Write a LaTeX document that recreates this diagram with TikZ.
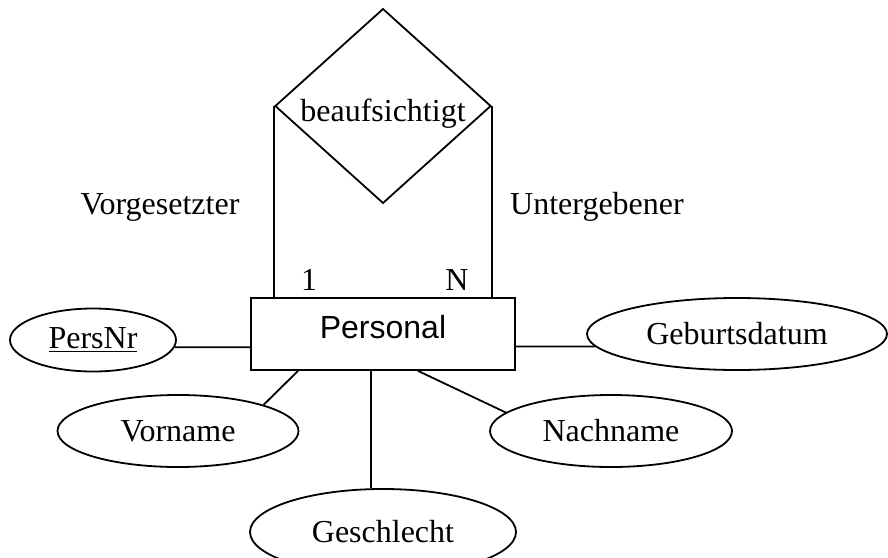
\documentclass[tikz,border=0pt]{standalone}
\usepackage{fontspec}
\setmainfont{Liberation Serif}
\setsansfont{Liberation Sans}
\usetikzlibrary{shapes.geometric}

\begin{document}
\begin{tikzpicture}
	[x=0.5pt,y=-0.5pt,line width=0.9pt,
	 font=\fontsize{16}{19}\selectfont,
	 entity/.style={draw,rectangle,inner sep=0pt,minimum width=132pt,minimum height=36pt,text depth=7pt,font=\fontsize{16}{19}\selectfont\sffamily},
	 relation/.style={draw,diamond,inner sep=0pt,minimum width=108pt,minimum height=96pt},
	 attr/.style={draw,ellipse,inner sep=0pt,minimum height=36pt}]
\useasboundingbox (0,0) rectangle (888,557);
% entity and relationship
\node[entity] (pers) at (383,334) {Personal};
\node[relation] (aufs) at (383,106) {\raisebox{-4pt}[\height][\depth]{beaufsichtigt}};
\draw (aufs.west) -- (aufs.west |- pers.north)
(aufs.east) -- (aufs.east |- pers.north);
% roles and cardinalities
\node (vorg) at (160,207) {Vorgesetzter};
\node (unterg) at (597,207) {Untergebener};
\node (card1) at (309,280) {1};
\node (cardN) at (457,280) {N};
% attributes
\node[attr,minimum width=83pt,minimum height=31.5pt] (persnr) at (93,340) {\underline{PersNr}};
\node[attr,minimum width=150pt] (gebdat) at (737,334) {Geburtsdatum};
\node[attr,minimum width=120.5pt] (vorname) at (178,431) {Vorname};
\node[attr,minimum width=121pt] (nachname) at (611,431) {Nachname};
\node[attr,minimum width=133pt,minimum height=43pt] (geschl) at (383,532) {Geschlecht};
\draw (persnr.-5) -- (persnr.-5 -| pers.west)
(gebdat.185) -- (gebdat.185 -| pers.east)
([xshift=-42.5pt]pers.south) -- (vorname.17)
([xshift=17.5pt]pers.south) -- (nachname.170)
([xshift=-6pt]pers.south) -- ([xshift=-6pt]geschl.north);
\end{tikzpicture}
\end{document}
